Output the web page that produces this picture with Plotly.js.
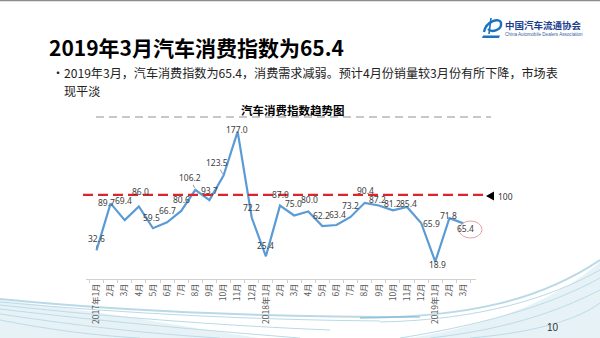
<!DOCTYPE html>
<html>
<head>
<meta charset="utf-8">
<script src="https://cdn.plot.ly/plotly-3.0.1.min.js"></script>
<style>
  html, body { margin: 0; padding: 0; background: #fff; }
  #chart { width: 600px; height: 338px; }
</style>
</head>
<body>
<div id="chart"></div>
<script>
// ---- data ----
var monthKeys = ['2017-01','2017-02','2017-03','2017-04','2017-05','2017-06','2017-07','2017-08','2017-09','2017-10','2017-11','2017-12',
                 '2018-01','2018-02','2018-03','2018-04','2018-05','2018-06','2018-07','2018-08','2018-09','2018-10','2018-11','2018-12',
                 '2019-01','2019-02','2019-03'];
var tickLabels = ['2017年1月','2月','3月','4月','5月','6月','7月','8月','9月','10月','11月','12月',
                  '2018年1月','2月','3月','4月','5月','6月','7月','8月','9月','10月','11月','12月',
                  '2019年1月','2月','3月'];
var indexValues = [32.6, 89.7, 69.4, 86.0, 59.5, 66.7, 80.6, 106.2, 93.7, 123.5, 177.0, 72.2,
                   25.4, 87.0, 75.0, 80.0, 62.2, 63.4, 73.2, 90.4, 87.2, 81.2, 85.4, 65.9,
                   18.9, 71.8, 65.4];
var referenceValue = 100;

// ---- label placement (style only: pixel offsets from each point) ----
var labelShift = [[0,12],[-4,1],[-1,20],[2,15],[-1,11],[0,12],[0,11],[-5,12],[0,10],[-7,13],[-1,2],[0,10],
                  [0,11],[0,11],[-1,12],[1,12],[-1,11],[1,11],[0,11],[1,12],[-1,6],[0,7],[1,3],[10,-1],
                  [2,-3],[-1,3],[2,-5]];
var leaderIdx = [0, 7, 9];

// plot area in pixels
var L = 86, R = 476, T = 111, B = 279;
function px(x){ return (x - L) / (R - L); }
function py(y){ return (B - y) / (B - T); }
function P(x,y){ return px(x).toFixed(4) + ',' + py(y).toFixed(4); }

var CJK = '"Noto Sans CJK SC", "Noto Sans", sans-serif';
var NUM = '"Liberation Sans Narrow", "Noto Sans", sans-serif';

var trace = {
  x: monthKeys,
  y: indexValues,
  type: 'scatter',
  mode: 'lines',
  line: { color: '#5b9bd5', width: 2.2 },
  hoverinfo: 'skip'
};

var annotations = [];
indexValues.forEach(function(v, i){
  var s = labelShift[i];
  var a = {
    x: monthKeys[i], y: v, xref: 'x', yref: 'y',
    text: v.toFixed(1),
    font: { family: NUM, size: 8.5, color: '#404040' }
  };
  if (leaderIdx.indexOf(i) >= 0) {
    a.showarrow = true; a.arrowhead = 0; a.arrowwidth = 0.8; a.arrowcolor = '#7f7f7f';
    a.ax = s[0]; a.ay = -s[1]; a.standoff = 2;
  } else {
    a.showarrow = false; a.xshift = s[0]; a.yshift = s[1];
  }
  annotations.push(a);
});

function txt(text, x, y, size, opts){
  opts = opts || {};
  return {
    text: text, xref: 'paper', yref: 'paper', x: px(x), y: py(y),
    xanchor: opts.xanchor || 'left', yanchor: 'middle', showarrow: false,
    font: { family: opts.family || CJK, size: size, color: opts.color || '#000', weight: opts.weight || 'normal' }
  };
}
annotations.push(txt('2019年3月汽车消费指数为65.4', 47, 47, 21, { weight: 'bold' }));
annotations.push(txt('•', 50, 73, 12, { color: '#222' }));
annotations.push(txt('2019年3月，汽车消费指数为65.4，消费需求减弱。预计4月份销量较3月份有所下降，市场表', 62, 73, 12.1, { color: '#222' }));
annotations.push(txt('现平淡', 62, 90, 12.1, { color: '#222' }));
annotations.push(txt('汽车消费指数趋势图', 293, 110, 11.5, { weight: 'bold', xanchor: 'center' }));
annotations.push(txt('100', 496, 196, 8.5, { color: '#333', family: '"Noto Sans", sans-serif' }));
annotations.push(txt('中国汽车流通协会', 503, 25, 9.5, { color: '#1d3f8e', weight: 'bold' }));
annotations.push(txt('China Automobile Dealers Association', 503, 34, 4.6, { color: '#3a5fa0', family: '"Liberation Sans", sans-serif' }));
annotations.push(txt('10', 553, 327, 10, { color: '#333', xanchor: 'center', family: '"Liberation Sans", sans-serif' }));

var shapes = [
  { type: 'line', xref: 'paper', yref: 'paper', x0: px(0), x1: px(600), y0: py(0.5), y1: py(0.5), line: { color: '#8c8c8c', width: 1.5 } },
  { type: 'line', xref: 'paper', yref: 'paper', x0: px(96), x1: px(491), y0: py(117), y1: py(117), line: { color: '#c8c8c8', width: 2, dash: '8px,5px' } },
  { type: 'line', xref: 'paper', yref: 'y', x0: px(83), x1: px(487), y0: referenceValue, y1: referenceValue, line: { color: '#d9252b', width: 2.2, dash: '10px,5px' } },
  { type: 'path', xref: 'paper', yref: 'paper', path: 'M' + P(486,196) + 'L' + P(494,191.5) + 'L' + P(494,200.5) + 'Z', fillcolor: '#000', line: { width: 0 } },
  { type: 'circle', xref: 'paper', yref: 'paper', x0: px(459), x1: px(482), y0: py(238), y1: py(221), line: { color: '#e8a0a8', width: 1 } },
  { type: 'path', xref: 'paper', yref: 'paper', path: 'M' + P(484,32) + 'C' + P(486,21) + ' ' + P(500,17) + ' ' + P(501,23) + 'C' + P(502,30) + ' ' + P(492,33) + ' ' + P(488,29), line: { color: '#1a73c0', width: 2.4 } },
  { type: 'path', xref: 'paper', yref: 'paper', path: 'M' + P(491,18) + 'L' + P(489,34), line: { color: '#1a73c0', width: 1.6 } },
  { type: 'path', xref: 'paper', yref: 'paper', path: 'M' + P(483,35.5) + 'L' + P(500,35.5) + 'L' + P(499,38) + 'L' + P(482,38) + 'Z', fillcolor: '#1a73c0', line: { width: 0 } }
];

// bottom decorative waves
var waves = [
  [[0,299],[120,311],[260,317],[420,317]],
  [[0,302],[130,314],[260,320],[380,321]],
  [[0,305],[120,318],[230,326],[330,330]],
  [[0,309],[110,322],[200,330],[300,338]],
  [[0,314],[80,326],[150,334],[220,338]],
  [[0,320],[50,330],[100,336],[140,338]],
  [[360,318],[470,317],[540,300],[600,260]],
  [[380,322],[480,320],[550,298],[600,270]],
  [[400,338],[500,322],[560,300],[600,278]],
  [[430,338],[520,328],[570,305],[600,290]],
  [[470,338],[540,332],[580,318],[600,303]]
];
waves.forEach(function(w, k){
  shapes.push({
    type: 'path', xref: 'paper', yref: 'paper', layer: 'below',
    path: 'M' + P(w[0][0], w[0][1]) + 'C' + P(w[1][0], w[1][1]) + ' ' + P(w[2][0], w[2][1]) + ' ' + P(w[3][0], w[3][1]),
    line: { color: 'rgba(100,170,200,0.45)', width: (k === 0 || k === 6) ? 2 : 1 }
  });
});
shapes.push({ type: 'path', xref: 'paper', yref: 'paper', layer: 'below',
  path: 'M' + P(0,300) + 'C' + P(120,313) + ' ' + P(200,330) + ' ' + P(260,338) + 'L' + P(0,338) + 'Z',
  fillcolor: 'rgba(195,222,235,0.4)', line: { width: 0 } });
shapes.push({ type: 'path', xref: 'paper', yref: 'paper', layer: 'below',
  path: 'M' + P(410,338) + 'C' + P(510,322) + ' ' + P(565,292) + ' ' + P(600,262) + 'L' + P(600,338) + 'Z',
  fillcolor: 'rgba(195,222,235,0.4)', line: { width: 0 } });

var layout = {
  width: 600, height: 338,
  margin: { l: L, r: 600 - R, t: T, b: 338 - B, pad: 0 },
  paper_bgcolor: '#fff', plot_bgcolor: 'rgba(0,0,0,0)',
  showlegend: false,
  xaxis: {
    type: 'category',
    tickvals: monthKeys, ticktext: tickLabels,
    tickangle: -90,
    tickson: 'boundaries',
    ticks: 'outside', ticklen: 3, tickcolor: '#d0d0d0',
    showline: true, linecolor: '#d0d0d0', linewidth: 1,
    showgrid: false, zeroline: false,
    tickfont: { family: CJK, size: 8.5, color: '#595959' },
    fixedrange: true
  },
  yaxis: {
    range: [-2.2, 202],
    visible: false, showgrid: false, zeroline: false, fixedrange: true
  },
  annotations: annotations,
  shapes: shapes
};

Plotly.newPlot('chart', [trace], layout, { displayModeBar: false, staticPlot: true });
</script>
</body>
</html>
